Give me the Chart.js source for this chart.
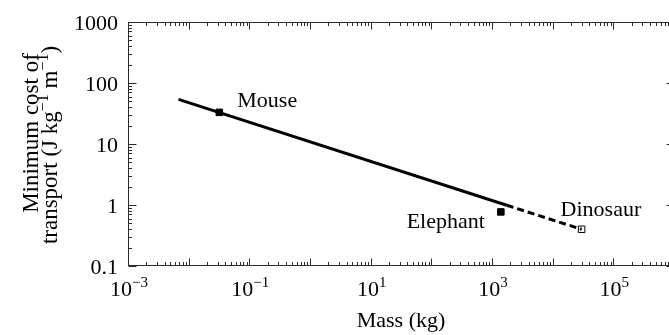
<!DOCTYPE html>
<html>
<head>
<meta charset="utf-8">
<script src="https://cdn.jsdelivr.net/npm/chart.js@4/dist/chart.umd.min.js"></script>
<style>
  html, body { margin: 0; padding: 0; overflow: hidden; background: #fff; }
  #wrap { width: 684px; height: 335px; }
</style>
</head>
<body>
<div id="wrap"><canvas id="c" width="684" height="335"></canvas></div>
<script>
// ---- data ----
const fitMass = [0.0068, 1750];          // solid regression line, kg
const fitCost = [54, 0.99];              // J kg^-1 m^-1
const extMass = [1750, 30000];           // dashed extrapolation
const extCost = [0.99, 0.40];
const animals = ['Mouse', 'Elephant', 'Dinosaur'];
const animalMass = [0.032, 1400, 30000];
const animalCost = [33, 0.77, 0.40];
const xTickExponents = [-3, -1, 1, 3, 5];
const yTickValues = [0.1, 1, 10, 100, 1000];
const yTickLabels = ['0.1', '1', '10', '100', '1000'];
const xTitle = 'Mass (kg)';
const yTitleLine1 = 'Minimum cost of';

// ---- styling ----
const FONT = '"Liberation Serif", "Times New Roman", serif';
const FS = 22, SUP = 15;
const INK = '#000';
const labelOffsets = {               // label placement relative to marker (px)
  Mouse:    { dx: 18,  dy: -5,  align: 'left'  },
  Elephant: { dx: -16, dy: 16,  align: 'right' },
  Dinosaur: { dx: -21, dy: -13, align: 'left'  }
};

function toXY(xs, ys) { return xs.map((x, i) => ({ x: x, y: ys[i] })); }

function richWidth(ctx, parts, fs, sup) {
  let w = 0;
  parts.forEach(p => { ctx.font = (p.sup ? sup : fs) + 'px ' + FONT; w += ctx.measureText(p.t).width; });
  return w;
}
function drawRich(ctx, parts, x, y, align, fs, sup) {
  fs = fs || FS; sup = sup || SUP;
  const w = richWidth(ctx, parts, fs, sup);
  let cx = align === 'center' ? x - w / 2 : (align === 'right' ? x - w : x);
  ctx.textAlign = 'left';
  ctx.textBaseline = 'alphabetic';
  parts.forEach(p => {
    ctx.font = (p.sup ? sup : fs) + 'px ' + FONT;
    ctx.fillText(p.t, cx, p.sup ? y - Math.round(fs * 0.41) : y);
    cx += ctx.measureText(p.t).width;
  });
}

const framePlugin = {
  id: 'frame',
  beforeDatasetsDraw(chart) {
    const ctx = chart.ctx, a = chart.chartArea;
    const xs = chart.scales.x, ys = chart.scales.y;
    ctx.save();
    ctx.strokeStyle = '#2a2a2a';
    ctx.lineWidth = 1;
    const L = Math.round(a.left) + 0.5, R = Math.round(a.right) + 0.5;
    const T = Math.round(a.top) + 0.5, B = Math.round(a.bottom) - 0.5;
    ctx.strokeRect(L, T, R - L, B - T);
    ctx.beginPath();
    // x ticks (inward, top and bottom)
    for (let n = Math.round(Math.log10(xs.min)); n <= Math.round(Math.log10(xs.max)); n++) {
      for (let k = 1; k <= 9; k++) {
        const v = k * Math.pow(10, n);
        if (v > xs.max * 1.0001) break;
        const px = Math.round(xs.getPixelForValue(v)) + 0.5;
        const len = k === 1 ? 7 : 3.5;
        ctx.moveTo(px, B); ctx.lineTo(px, B - len);
        ctx.moveTo(px, T); ctx.lineTo(px, T + len);
      }
    }
    // y ticks (inward, left and right)
    for (let n = Math.round(Math.log10(ys.min)); n <= Math.round(Math.log10(ys.max)); n++) {
      for (let k = 1; k <= 9; k++) {
        const v = k * Math.pow(10, n);
        if (v > ys.max * 1.0001) break;
        const py = Math.round(ys.getPixelForValue(v)) + 0.5;
        const len = k === 1 ? 8 : 3.5;
        ctx.moveTo(L, py); ctx.lineTo(L + len, py);
        ctx.moveTo(R, py); ctx.lineTo(R - len, py);
      }
    }
    ctx.stroke();
    ctx.restore();
  },
  afterDraw(chart) {
    const ctx = chart.ctx, a = chart.chartArea;
    const xs = chart.scales.x, ys = chart.scales.y;
    ctx.save();
    ctx.fillStyle = INK;
    // x tick labels
    xTickExponents.forEach(e => {
      const px = xs.getPixelForValue(Math.pow(10, e));
      const exp = (e < 0 ? '\u2212' : '') + Math.abs(e);
      drawRich(ctx, [{ t: '10' }, { t: exp, sup: true }], px + 1, a.bottom + 30, 'center');
    });
    // y tick labels
    ctx.font = FS + 'px ' + FONT;
    ctx.textAlign = 'right';
    ctx.textBaseline = 'alphabetic';
    yTickValues.forEach((v, i) => {
      const py = ys.getPixelForValue(v);
      ctx.fillText(yTickLabels[i], a.left - 10, py + 8);
    });
    // x title
    ctx.textAlign = 'center';
    ctx.fillText(xTitle, (a.left + a.right) / 2, a.bottom + 61);
    // y title (rotated, two lines)
    const TFS = 23, TSUP = 16;
    const midY = (a.top + a.bottom) / 2;
    ctx.save();
    ctx.translate(38, midY - 11);
    ctx.rotate(-Math.PI / 2);
    ctx.font = TFS + 'px ' + FONT;
    ctx.textAlign = 'center';
    ctx.fillText(yTitleLine1, 0, 0);
    ctx.restore();
    ctx.save();
    ctx.translate(57, midY + 1);
    ctx.rotate(-Math.PI / 2);
    drawRich(ctx, [
      { t: 'transport (J kg' }, { t: '\u22121', sup: true },
      { t: ' m' }, { t: '\u22121', sup: true }, { t: ')' }
    ], 0, 0, 'center', TFS, TSUP);
    ctx.restore();
    // point labels
    ctx.font = FS + 'px ' + FONT;
    animals.forEach((name, i) => {
      const px = xs.getPixelForValue(animalMass[i]);
      const py = ys.getPixelForValue(animalCost[i]);
      const o = labelOffsets[name];
      ctx.textAlign = o.align;
      ctx.fillText(name, px + o.dx, py + o.dy);
    });
    ctx.restore();
  }
};

const filledIdx = [0, 1], openIdx = [2];

new Chart(document.getElementById('c'), {
  type: 'scatter',
  data: {
    datasets: [
      {
        label: 'fit', data: toXY(fitMass, fitCost), showLine: true,
        borderColor: '#000', borderWidth: 3, pointRadius: 0, fill: false
      },
      {
        label: 'extrapolation', data: toXY(extMass, extCost), showLine: true,
        borderColor: '#000', borderWidth: 3, borderDash: [7, 4], pointRadius: 0, fill: false
      },
      {
        label: 'measured', data: filledIdx.map(i => ({ x: animalMass[i], y: animalCost[i] })),
        pointStyle: 'rect', pointRadius: 4.6, backgroundColor: '#000', borderColor: '#000', borderWidth: 1
      },
      {
        label: 'estimated', data: openIdx.map(i => ({ x: animalMass[i], y: animalCost[i] })),
        pointStyle: 'rect', pointRadius: 4.6, backgroundColor: '#fff', borderColor: '#000', borderWidth: 1
      }
    ]
  },
  options: {
    responsive: false,
    animation: false,
    devicePixelRatio: 1,
    layout: { padding: { left: 128, top: 22, right: 10, bottom: 69 } },
    plugins: { legend: { display: false }, tooltip: { enabled: false } },
    scales: {
      x: { type: 'logarithmic', min: 1e-3, max: 1e6, display: false },
      y: { type: 'logarithmic', min: 0.1, max: 1000, display: false }
    }
  },
  plugins: [framePlugin]
});
</script>
</body>
</html>
